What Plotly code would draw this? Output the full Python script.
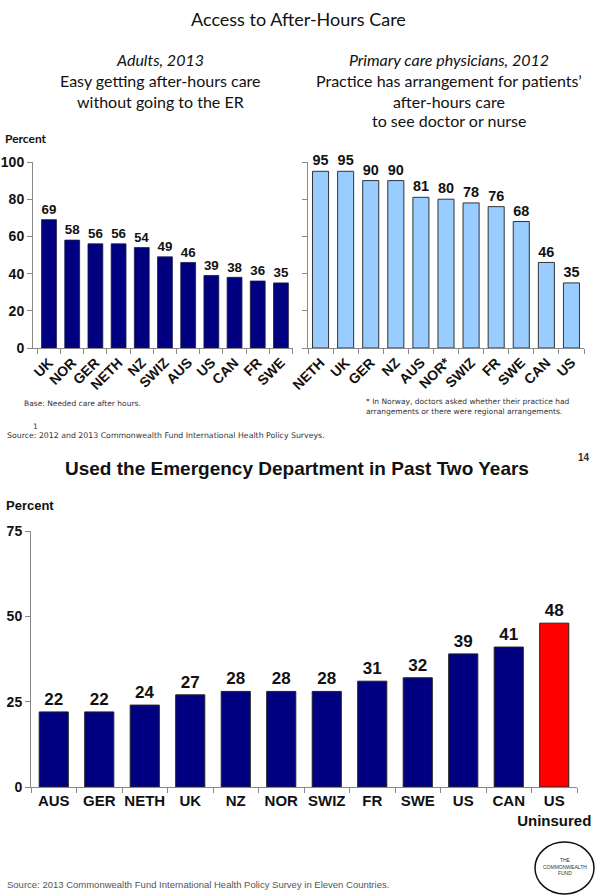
import plotly.graph_objects as go

W, H = 597, 896

# ---- data ----
adults_countries = ["UK", "NOR", "GER", "NETH", "NZ", "SWIZ", "AUS", "US", "CAN", "FR", "SWE"]
adults_values = [69, 58, 56, 56, 54, 49, 46, 39, 38, 36, 35]

phys_countries = ["NETH", "UK", "GER", "NZ", "AUS", "NOR*", "SWIZ", "FR", "SWE", "CAN", "US"]
phys_values = [95, 95, 90, 90, 81, 80, 78, 76, 68, 46, 35]

ed_countries = ["AUS", "GER", "NETH", "UK", "NZ", "NOR", "SWIZ", "FR", "SWE", "US", "CAN", "US Uninsured"]
ed_values = [22, 22, 24, 27, 28, 28, 28, 31, 32, 39, 41, 48]
ed_ticktext = ["AUS", "GER", "NETH", "UK", "NZ", "NOR", "SWIZ", "FR", "SWE", "US", "CAN", "US<br>Uninsured"]

top_yticks = [0, 20, 40, 60, 80, 100]
bottom_yticks = [0, 25, 50, 75]

NAVY = "#000080"
LIGHT = "#99CCFF"
RED = "#FF0000"


def px(x):
    return x / W


def py(y):
    return 1 - y / H


fig = go.Figure()

fig.add_trace(go.Bar(
    x=adults_countries, y=adults_values, xaxis="x", yaxis="y",
    marker=dict(color=NAVY, line=dict(color="#1a1a40", width=0.8)),
    text=adults_values, textposition="outside", cliponaxis=False,
    textfont=dict(family="Liberation Sans, Arial", size=15, color="#111"),
    showlegend=False,
))

fig.add_trace(go.Bar(
    x=phys_countries, y=phys_values, xaxis="x2", yaxis="y2",
    marker=dict(color=LIGHT, line=dict(color="#333333", width=1)),
    text=phys_values, textposition="outside", cliponaxis=False,
    textfont=dict(family="Liberation Sans, Arial", size=15, color="#111"),
    showlegend=False,
))

ed_colors = [NAVY] * (len(ed_values) - 1) + [RED]
fig.add_trace(go.Bar(
    x=ed_countries, y=ed_values, xaxis="x3", yaxis="y3",
    marker=dict(color=ed_colors, line=dict(color="#222222", width=1)),
    text=ed_values, textposition="outside", cliponaxis=False,
    textfont=dict(family="Liberation Sans, Arial", size=17, color="#111"),
    showlegend=False,
))

axis_line = dict(showline=True, linecolor="#888888", linewidth=1, showgrid=False,
                 zeroline=False, ticks="outside", tickcolor="#888888", ticklen=5,
                 automargin=False, fixedrange=True)

tick_font_top = dict(family="Liberation Sans, Arial", size=14, color="#111")

fig.update_layout(
    template="none",
    width=W, height=H,
    margin=dict(l=0, r=0, t=0, b=0, pad=0),
    paper_bgcolor="white", plot_bgcolor="white",
    bargap=0.36,
    xaxis=dict(domain=[px(33), px(293)], anchor="y", type="category",
               range=[-0.69, 10.52], tickson="boundaries", tickangle=-45,
               tickfont=tick_font_top, **axis_line),
    yaxis=dict(domain=[py(348), py(162)], anchor="x", range=[0, 100],
               tickvals=top_yticks, tickfont=dict(family="Liberation Sans, Arial", size=14, color="#111"),
               **axis_line),
    xaxis2=dict(domain=[px(308), px(584)], anchor="y2", type="category",
                range=[-0.5, 10.5], tickson="boundaries", tickangle=-45,
                tickfont=tick_font_top, **axis_line),
    yaxis2=dict(domain=[py(348), py(162)], anchor="x2", range=[0, 100],
                tickvals=top_yticks, showticklabels=False, **axis_line),
    xaxis3=dict(domain=[px(31), px(577)], anchor="y3", type="category",
                range=[-0.5, 11.5], tickson="boundaries", tickangle=0,
                tickvals=ed_countries, ticktext=ed_ticktext,
                tickfont=dict(family="Liberation Sans, Arial", size=15, color="#111"),
                **axis_line),
    yaxis3=dict(domain=[py(787), py(531)], anchor="x3", range=[0, 75],
                tickvals=bottom_yticks,
                tickfont=dict(family="Liberation Sans, Arial", size=14, color="#111"),
                **axis_line),
)

# bold tick labels
for ax in ["xaxis", "yaxis", "xaxis2", "xaxis3", "yaxis3"]:
    fig.layout[ax].tickfont.weight = "bold"
for tr in fig.data:
    tr.textfont.weight = "bold"

CAL = "Lato, Open Sans, sans-serif"
annots = [
    dict(text="Access to After-Hours Care", x=px(298), y=py(19), size=18, font=CAL),
    dict(text="<i>Adults, 2013</i>", x=px(160), y=py(60), size=16, font=CAL),
    dict(text="Easy getting after-hours care", x=px(160), y=py(81), size=16, font=CAL),
    dict(text="without going to the ER", x=px(160), y=py(101), size=16, font=CAL),
    dict(text="<i>Primary care physicians, 2012</i>", x=px(449), y=py(60), size=16, font=CAL),
    dict(text="Practice has arrangement for patients’", x=px(449), y=py(81), size=16, font=CAL),
    dict(text="after-hours care", x=px(449), y=py(101), size=16, font=CAL),
    dict(text="to see doctor or nurse", x=px(449), y=py(121), size=16, font=CAL),
]
for a in annots:
    fig.add_annotation(text=a["text"], x=a["x"], y=a["y"], xref="paper", yref="paper",
                       xanchor="center", yanchor="middle", showarrow=False,
                       font=dict(family=a["font"], size=a["size"], color="#111"))

fig.add_annotation(text="<b>Percent</b>", x=px(3), y=py(138), xref="paper", yref="paper",
                   xanchor="left", yanchor="middle", showarrow=False,
                   font=dict(family=CAL, size=12, color="#111"))

small = "DejaVu Sans, Verdana, sans-serif"
fig.add_annotation(text="Base: Needed care after hours.", x=px(22), y=py(403), xref="paper", yref="paper",
                   xanchor="left", yanchor="middle", showarrow=False,
                   font=dict(family=small, size=7.5, color="#333"))
fig.add_annotation(text="* In Norway, doctors asked whether their practice had<br>arrangements or there were regional arrangements.",
                   x=px(364), y=py(406), xref="paper", yref="paper",
                   xanchor="left", yanchor="middle", align="left", showarrow=False,
                   font=dict(family=small, size=7.5, color="#333"))
fig.add_annotation(text="1", x=px(35), y=py(426), xref="paper", yref="paper",
                   xanchor="center", yanchor="middle", showarrow=False,
                   font=dict(family=small, size=7.5, color="#333"))
fig.add_annotation(text="Source: 2012 and 2013 Commonwealth Fund International Health Policy Surveys.",
                   x=px(5), y=py(435), xref="paper", yref="paper",
                   xanchor="left", yanchor="middle", showarrow=False,
                   font=dict(family=small, size=7.8, color="#333"))

ARIAL = "Liberation Sans, Arial"
fig.add_annotation(text="<b>Used the Emergency Department in Past Two Years</b>", x=px(297), y=py(468),
                   xref="paper", yref="paper", xanchor="center", yanchor="middle", showarrow=False,
                   font=dict(family=ARIAL, size=19, color="#111"))
fig.add_annotation(text="<b>14</b>", x=px(584), y=py(457), xref="paper", yref="paper",
                   xanchor="center", yanchor="middle", showarrow=False,
                   font=dict(family=ARIAL, size=10, color="#333"))
fig.add_annotation(text="<b>Percent</b>", x=px(4), y=py(505), xref="paper", yref="paper",
                   xanchor="left", yanchor="middle", showarrow=False,
                   font=dict(family=ARIAL, size=13, color="#111"))
fig.add_annotation(text="Source: 2013 Commonwealth Fund International Health Policy Survey in Eleven Countries.",
                   x=px(5), y=py(884), xref="paper", yref="paper",
                   xanchor="left", yanchor="middle", showarrow=False,
                   font=dict(family=ARIAL, size=9.5, color="#555"))

# logo
fig.add_shape(type="circle", xref="paper", yref="paper",
              x0=px(535), x1=px(594), y0=py(894), y1=py(842),
              line=dict(color="#111", width=1.5), fillcolor="white")
fig.add_annotation(text="THE<br>COMMONWEALTH<br>FUND", x=px(565), y=py(866), xref="paper", yref="paper",
                   xanchor="center", yanchor="middle", showarrow=False,
                   font=dict(family=ARIAL, size=5, color="#333"))

fig.write_html(
    "out.html",
    config={"displayModeBar": False},
    post_script="document.body.style.margin='0';document.body.style.padding='0';"
                "document.body.style.overflow='hidden';",
)
